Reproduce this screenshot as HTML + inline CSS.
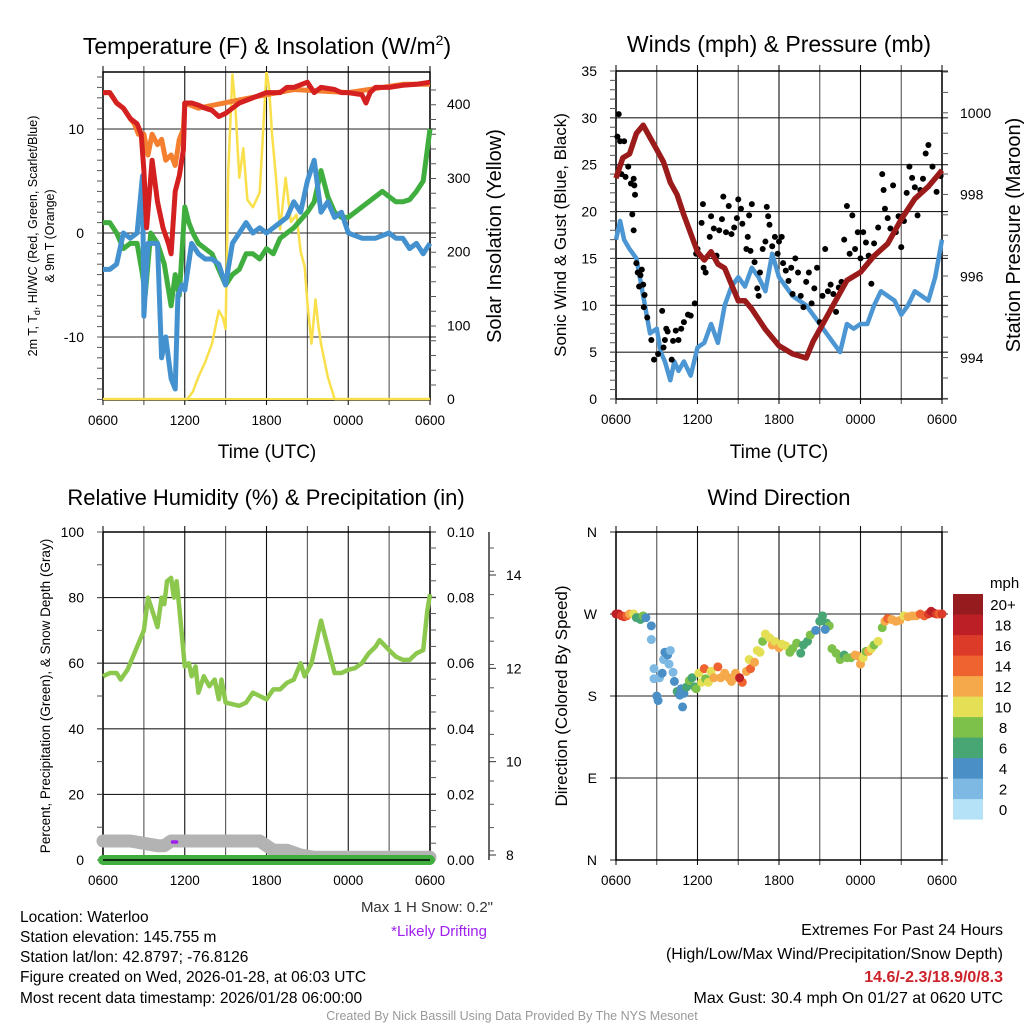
<!DOCTYPE html>
<html><head><meta charset="utf-8"><style>
body{margin:0;background:#fff;}
svg text{font-family:"Liberation Sans",Arial,sans-serif;fill:#000;}
</style></head><body>
<svg id="fig" width="1024" height="1024" viewBox="0 0 1024 1024" xmlns="http://www.w3.org/2000/svg">
<rect width="1024" height="1024" fill="#fff"/>
<g id="static">
<text x="267" y="54" font-size="23" text-anchor="middle">Temperature (F) &amp; Insolation (W/m<tspan font-size="14" dy="-9">2</tspan><tspan dy="9">)</tspan></text>
<text x="779" y="52" font-size="23" text-anchor="middle">Winds (mph) &amp; Pressure (mb)</text>
<text x="266" y="505" font-size="22" text-anchor="middle">Relative Humidity (%) &amp; Precipitation (in)</text>
<text x="779" y="505" font-size="22" text-anchor="middle">Wind Direction</text>
<text x="267" y="458" font-size="19" text-anchor="middle">Time (UTC)</text>
<text x="779" y="458" font-size="19" text-anchor="middle">Time (UTC)</text>
<text transform="translate(37,236) rotate(-90)" font-size="12.5" text-anchor="middle">2m T, T<tspan font-size="9" dy="3">d</tspan><tspan dy="-3">, HI/WC (Red, Green, Scarlet/Blue)</tspan></text>
<text transform="translate(54,236) rotate(-90)" font-size="12.5" text-anchor="middle">&amp; 9m T (Orange)</text>
<text transform="translate(501,236) rotate(-90)" font-size="20" text-anchor="middle">Solar Insolation (Yellow)</text>
<text transform="translate(566,235) rotate(-90)" font-size="17" text-anchor="middle">Sonic Wind &amp; Gust (Blue, Black)</text>
<text transform="translate(1020,235) rotate(-90)" font-size="20" text-anchor="middle">Station Pressure (Maroon)</text>
<text transform="translate(50,696) rotate(-90)" font-size="13.5" text-anchor="middle">Percent, Precipitation (Green), &amp; Snow Depth (Gray)</text>
<text transform="translate(567,696) rotate(-90)" font-size="17" text-anchor="middle">Direction (Colored By Speed)</text>
<text x="493" y="912" font-size="15" fill="#333" text-anchor="end" style="fill:#333">Max 1 H Snow: 0.2"</text>
<text x="487" y="936" font-size="15" text-anchor="end" style="fill:#a020f0">*Likely Drifting</text>
<g font-size="15.5">
<text x="20" y="922">Location: Waterloo</text>
<text x="20" y="942">Station elevation: 145.755 m</text>
<text x="20" y="962">Station lat/lon: 42.8797; -76.8126</text>
<text x="20" y="982">Figure created on Wed, 2026-01-28, at 06:03 UTC</text>
<text x="20" y="1003">Most recent data timestamp: 2026/01/28 06:00:00</text>
</g>
<g font-size="16" text-anchor="end">
<text x="1003" y="935">Extremes For Past 24 Hours</text>
<text x="1003" y="959">(High/Low/Max Wind/Precipitation/Snow Depth)</text>
<text x="1003" y="982" font-weight="bold" style="fill:#cc2229">14.6/-2.3/18.9/0/8.3</text>
<text x="1003" y="1003">Max Gust: 30.4 mph On 01/27 at 0620 UTC</text>
</g>
<text x="512" y="1020" font-size="12.5" text-anchor="middle" style="fill:#999">Created By Nick Bassill Using Data Provided By The NYS Mesonet</text>
</g>
<g id="dyn"></g>
</svg>
<script>
// ---------- data ----------
const xTickLabels = ["0600","1200","1800","0000","0600"];
const tempTicks = [10, 0, -10];
const solarTicks = [0, 100, 200, 300, 400];
const windTicks = [0,5,10,15,20,25,30,35];
const pressTicks = [994, 996, 998, 1000];
const rhTicks = [0,20,40,60,80,100];
const precipTicks = ["0.00","0.02","0.04","0.06","0.08","0.10"];
const snowTicks = [8,10,12,14];
const dirLabels = ["N","E","S","W","N"];
const speedBins = ["0","2","4","6","8","10","12","14","16","18","20+"];
const speedColors = ["#b5e2f7","#7db9e2","#4a8fc6","#48a574","#7dc04a","#e4df55","#f6a94a","#ee6330","#dd3b2a","#bd1f26","#951b1e"];

const redT = [0,0.5,1,1.5,2,2.5,2.8,3,3.2,3.6,4,4.4,4.8,5,5.3,5.6,5.9,6,6.5,7,7.5,8,8.5,9,9.5,10,11,12,13,13.5,14,15,15.5,16,17,17.5,18,19,19.3,19.6,20,21,22,23,24];
const redV = [13.5,13.5,12.5,12,11,10.5,9.5,6,0.5,7,3,0.5,-1,-2,4,5.5,8,12.5,12.5,12.3,12,11.8,11.2,11.5,12,12.5,13,13.5,13.5,14,14,14.5,13.5,14,13.8,13.5,13.5,13.3,12.5,13.5,14,14,14.2,14.3,14.5];
const orangeT = [0,0.5,1,1.5,2,2.3,2.6,3,3.3,3.6,4,4.3,4.6,5,5.3,5.6,5.9,6,7,10,14,18,22,24];
const orangeV = [13.5,13.5,12.5,12,11,10.5,9.5,9.5,7.5,9.5,8.5,9,7,7.5,6.5,9,10,12.5,12,12.8,13.8,13.5,14.3,14.3];
const greenT = [0,0.5,1,1.5,2,2.5,2.9,3.1,3.5,4,4.5,5,5.3,5.6,6,6.3,6.6,7,7.5,8,8.5,9,9.5,10,10.5,11,11.5,12,12.5,13,14,15,15.5,16,16.5,17,17.5,18,19,20,20.5,21,21.5,22,22.5,23,23.5,24];
const greenV = [1,1,0,-1.5,-1,-1,-4,-6,0,-1,-3,-7,-4,-6,2.5,1,0,-1,-1.5,-2,-3.5,-5,-4,-3.5,-2,-2,-2.5,-1.5,-2,-0.5,0.5,2,3,6,3.5,2,1.5,1.5,2.5,3.5,4,3.5,3,3,3.2,4,5,10];
const blueT = [0,0.5,1,1.5,2,2.5,2.9,3,3.3,3.6,4,4.3,4.6,5,5.3,5.5,5.8,6,6.5,7,7.5,8,8.5,9,9.5,10,10.5,11,11.5,12,12.5,13,13.5,14,14.5,15,15.5,16,16.5,17,17.5,18,19,20,21,21.5,22,22.5,23,23.5,24];
const blueV = [-3.5,-3.5,-3,0,-0.5,0,5.5,-8,-1,-1,-1,-12,-10,-14,-15,-6,-5,-5.5,-1,-2,-2.5,-2.5,-3,-5,-1,0,1,0,0.5,0,0.5,1,1.5,3,2,5,7,2,3,1.5,2,0,-0.5,-0.5,0,-0.5,-0.5,-1.5,-1,-2,-1];
const solarT = [0,6.2,6.6,7,7.5,8,8.5,8.8,9,9.2,9.5,9.7,10,10.3,10.6,11,11.5,11.8,12,12.2,12.4,12.7,13,13.4,13.8,14.2,14.5,14.8,15,15.3,15.6,15.8,16,16.5,17,24];
const solarV = [0,0,10,30,50,75,120,110,95,310,440,400,300,340,270,260,280,380,445,420,360,300,230,300,240,250,200,180,130,75,135,100,75,30,0,0];

const windT = [0,0.3,0.6,1,1.5,2,2.5,3,3.3,3.6,4,4.3,4.6,5,5.5,6,6.5,7,7.5,8,8.5,9,9.5,10,10.5,11,11.5,12,12.5,13,13.5,14,14.5,15,15.5,16,16.5,17,17.5,18,18.5,19,19.5,20,20.5,21,21.5,22,22.5,23,23.5,24];
const windV = [17,19,17,16,15,11,7,7.5,5,4,2,4,3,4,2.5,5.5,6,8,6,10,12,13,12,14,13,11.5,15.5,13,12,11,10.5,10,9,8,7,6,5,8,7.5,8,8,10,11.5,11,10.5,9,10,11.5,11,10.5,13,17,14];
const gustT = [0.1,0.2,0.3,0.4,0.6,0.7,0.9,1.1,1.3,1.35,1.4,1.2,1.3,1.5,1.6,1.7,1.8,1.9,2.0,2.1,2.05,2.3,2.6,2.8,3.1,3.4,3.5,3.6,3.7,3.8,4.1,4.2,4.4,4.6,4.8,5.0,5.3,5.5,5.8,5.9,6.0,6.3,6.4,6.45,6.6,6.9,7.0,7.2,7.4,7.6,7.8,7.9,8.1,8.3,8.5,8.7,8.9,9.0,9.2,9.3,9.6,9.7,9.8,9.9,10.0,10.2,10.4,10.5,10.6,10.8,11.0,11.1,11.2,11.3,11.5,11.7,11.9,12.0,12.2,12.3,12.5,12.7,12.9,13.0,13.2,13.4,13.6,13.8,14.0,14.2,14.4,14.6,14.8,15.0,15.2,15.4,15.6,15.8,16.0,16.2,16.4,16.6,16.8,17.0,17.2,17.4,17.6,17.8,18.0,18.2,18.4,18.6,18.8,19.0,19.3,19.6,19.7,19.8,20.0,20.2,20.4,20.6,20.8,21.0,21.2,21.4,21.6,21.8,22.0,22.2,22.4,22.6,22.8,23.0,23.3,23.6,23.9];
const gustV = [28,30.4,27.5,24,27.5,23.7,24.8,23,23.5,22.8,21.8,19.7,18,14.5,13.5,12,13.2,13.8,12.2,11.1,9.8,8.7,6.3,4.2,4.8,9.4,5.5,6.3,7.5,7.2,4.2,6.2,7.3,6.3,7.5,8.2,9,8.9,10.2,15.5,16,18.8,20.8,14,13.5,17.3,19.5,18.2,15.3,18,19.2,21.6,17.8,20.6,17.6,18.3,19.3,21.3,20.3,18.7,16,17.3,19.6,15.8,20.8,14.6,11.8,11,13.5,16,16.8,20.5,19.5,18.6,16.3,17.3,15.5,16.8,17.3,14.5,13.7,12.6,14,11.2,15,13.5,11,9.8,12.5,13.5,10.2,11.8,14,8.2,11,16,11.5,12.2,11.2,9.3,11.9,12.5,17,20.6,15.5,19.6,16,17.8,15,17.8,16.7,15.3,12.3,16.6,18.3,24,22.3,20.3,19.3,18.2,22.8,17.8,19.5,16.2,19,22,24.8,23.6,22.6,19.6,22.3,23.5,26.2,27.1,24.8,22.1,23.8];
const pressT = [0,0.5,1,1.5,2,2.5,3,3.5,4,4.5,5,6,6.5,7,7.5,8,9,9.5,10,11,12,13,14,14.5,15,16,17,18,19,20,21,22,23,24];
const pressV = [998.4,998.9,999.0,999.5,999.7,999.4,999.1,998.8,998.3,998.0,997.5,996.6,996.4,996.6,996.3,996.2,995.4,995.4,995.2,994.7,994.3,994.1,994.0,994.4,994.7,995.3,995.9,996.1,996.5,996.8,997.4,997.9,998.2,998.6];

const rhT = [0,0.5,1,1.3,1.8,2.5,3,3.3,3.7,4,4.3,4.5,4.7,5,5.2,5.4,5.6,6,6.3,6.5,6.8,7,7.4,7.8,8.2,8.5,8.7,9,10,10.5,11,11.5,12,12.5,13,13.5,14,14.5,14.8,15.3,16,16.5,17,17.5,18,18.5,19,19.5,20,20.3,21,21.5,22,22.5,23,23.5,23.8,24];
const rhV = [56,57,57,55,58,65,70,80,75,71,80,78,85,86,80,85,77,59,60,56,59,51,56,53,55,49,55,48,47,48,51,50,49,52,52,54,55,60,56,60,73,65,57,57,58,58.5,60,63,65,67,64,62,61,61,63,64,76,81];
const snowT = [0,1,2,3,4,4.5,5,6,8,10,11.5,12.5,13.5,14.5,15.5,24];
const snowV = [8.3,8.3,8.3,8.25,8.2,8.2,8.3,8.3,8.3,8.3,8.3,8.1,8.1,8.0,7.95,7.95];
const precipT = [0,24];
const precipV = [0,0];

const dirT = [0,0.2,0.4,0.6,0.8,1.0,1.3,1.5,1.8,2.0,2.2,2.6,2.6,2.8,2.8,3.0,3.1,3.2,3.4,3.5,3.6,3.8,3.9,4.0,4.2,4.3,4.5,4.7,4.8,4.9,5.0,5.2,5.4,5.6,5.8,5.9,6.1,6.3,6.5,6.6,6.8,7.0,7.2,7.5,7.7,8.0,8.3,8.5,8.8,9.0,9.3,9.1,9.6,9.8,9.9,10.2,10.4,10.6,10.8,11.0,11.3,11.5,11.7,12.0,12.2,12.5,12.8,13.0,13.3,13.6,13.8,14.1,14.3,14.7,15.0,15.2,15.5,15.7,15.4,15.9,16.2,16.5,16.8,17.0,17.3,17.6,17.8,18.0,18.2,18.4,18.6,18.8,19.0,19.3,19.6,19.8,20.0,20.3,20.6,20.9,21.2,21.5,21.8,22.1,22.4,22.7,23.0,23.2,23.4,23.6,23.8,24.0];
const dirV = [270,270,268,267,268,270,270,266,264,268,266,257,242,210,199,180,175,200,205,220,228,225,215,230,206,196,185,181,188,168,183,190,197,200,190,188,205,195,210,199,195,207,200,212,200,205,200,196,205,200,195,200,207,220,210,217,230,228,240,248,244,236,240,233,237,235,228,232,238,227,236,240,247,252,262,268,260,257,253,232,227,220,225,222,222,225,224,215,222,229,229,232,236,240,255,262,265,264,262,263,268,267,268,268,270,268,270,273,271,270,270,270];
const dirSpd = [18,18,16,16,14,12,10,6,6,8,4,4,2,2,2,4,4,2,4,2,4,4,2,2,2,4,6,4,4,4,4,6,8,6,6,8,10,10,14,8,10,10,12,14,12,12,12,12,12,12,14,18,12,10,14,12,10,10,8,10,10,12,10,12,10,10,8,8,8,6,6,6,8,4,6,6,6,8,4,8,8,8,6,8,8,12,12,12,10,8,12,10,8,10,8,12,14,12,12,12,10,12,12,12,14,14,16,18,18,16,14,16];

// ---------- helpers ----------
const NS = "http://www.w3.org/2000/svg";
const root = document.getElementById("dyn");
function mk(tag, attrs, parent) {
  const e = document.createElementNS(NS, tag);
  for (const k in attrs) e.setAttribute(k, attrs[k]);
  (parent || root).appendChild(e);
  return e;
}
function txt(x, y, s, size, anchor, parent) {
  const t = mk("text", {x: x, y: y, "font-size": size, "text-anchor": anchor}, parent);
  t.textContent = s;
  return t;
}
function linePath(ts, vs, fx, fy) {
  let d = "";
  for (let i = 0; i < ts.length; i++) d += (i ? "L" : "M") + fx(ts[i]).toFixed(1) + "," + fy(vs[i]).toFixed(1);
  return d;
}

// panel geometry
function xScale(x0, x1) { return h => x0 + h * (x1 - x0) / 24; }
function yScale(v0, p0, v1, p1) { return v => p0 + (v - v0) * (p1 - p0) / (v1 - v0); }

function frame(name, x0, x1, top, bot, hLines, parent) {
  const g = mk("g", {}, parent);
  
  
  for (let i = 0; i <= 8; i++) {
    const x = x0 + i * (x1 - x0) / 8;
    const l = mk("line", {x1: x, x2: x, y1: top - 6, y2: bot + 5, stroke: i % 2 ? "#555" : "#111", "stroke-width": 1.1}, g);
    
    
  }
  hLines.forEach(y => {
    const l = mk("line", {x1: x0 - 6, x2: x1 + 6, y1: y, y2: y, stroke: "#222", "stroke-width": 1.1}, g);
    
    
  });
  const b = mk("rect", {x: x0, y: top, width: x1 - x0, height: bot - top, fill: "none", stroke: "#000", "stroke-width": 1.5}, g);
  
  
  xTickLabels.forEach((s, i) => {
    const t = txt(x0 + i * (x1 - x0) / 4, bot + 25, s, 13.5, "middle", g);
    
    
  });
}
function minorTicks(x, from, to, step, len, parent) {
  for (let y = from; y <= to + 0.1; y += step) mk("line", {x1: x, x2: x + len, y1: y, y2: y, stroke: "#555", "stroke-width": 1}, parent);
}

// ---------- Panel 1: temperature ----------
const p1 = mk("g", {});


const x1s = xScale(103, 430), yT = yScale(0, 233, 10, 129), yS = yScale(0, 399, 400, 104);
frame("temperature", 103, 430, 72, 400, tempTicks.map(yT), p1);
minorTicks(97, 77, 400, 10.4, 6, p1);
minorTicks(430, 90, 399, 14.75, 6, p1);
tempTicks.forEach(v => { const t = txt(84, yT(v) + 5, String(v), 14, "end", p1);   });
solarTicks.forEach(v => { const t = txt(447, yS(v) + 5, String(v), 14, "start", p1);   });
const cp1 = mk("clipPath", {id: "c1"}, p1); mk("rect", {x: 100, y: 72, width: 334, height: 330}, cp1);
const gl1 = mk("g", {"clip-path": "url(#c1)"}, p1);
const solarLine = mk("path", {d: linePath(solarT, solarV, x1s, yS), fill: "none", stroke: "#f9e04b", "stroke-width": 2.5, "stroke-linejoin": "round"}, gl1);


const orangeLine = mk("path", {d: linePath(orangeT, orangeV, x1s, yT), fill: "none", stroke: "#f47f2f", "stroke-width": 5, "stroke-linejoin": "round"}, gl1);


const greenLine = mk("path", {d: linePath(greenT, greenV, x1s, yT), fill: "none", stroke: "#3fae3f", "stroke-width": 5, "stroke-linejoin": "round"}, gl1);


const blueLine = mk("path", {d: linePath(blueT, blueV, x1s, yT), fill: "none", stroke: "#4391cf", "stroke-width": 5, "stroke-linejoin": "round"}, gl1);


const redLine = mk("path", {d: linePath(redT, redV, x1s, yT), fill: "none", stroke: "#d42020", "stroke-width": 5, "stroke-linejoin": "round"}, gl1);


mk("line", {x1: 103, x2: 430, y1: 399, y2: 399, stroke: "#f9e04b", "stroke-width": 2}, gl1);

// ---------- Panel 2: winds ----------
const p2 = mk("g", {});


const x2s = xScale(616, 942), yW = yScale(0, 399, 35, 71), yP = yScale(994, 358, 1000, 113);
frame("winds", 616, 942, 71, 399, windTicks.map(yW), p2);
minorTicks(610, 71, 399, 9.37, 6, p2);
minorTicks(942, 72, 399, 20.4, 6, p2);
windTicks.forEach(v => { const t = txt(597, yW(v) + 5, String(v), 14, "end", p2);   });
pressTicks.forEach(v => { const t = txt(960, yP(v) + 5, String(v), 14, "start", p2);   });
const windLine = mk("path", {d: linePath(windT, windV, x2s, yW), fill: "none", stroke: "#4c97d3", "stroke-width": 4.5, "stroke-linejoin": "round"}, p2);


for (let i = 0; i < gustT.length; i++) {
  const c = mk("circle", {cx: x2s(gustT[i]), cy: yW(gustV[i]), r: 3, fill: "#000"}, p2);
  
  
}
const pressLine = mk("path", {d: linePath(pressT, pressV, x2s, yP), fill: "none", stroke: "#9b1b1b", "stroke-width": 5.5, "stroke-linejoin": "round"}, p2);



// ---------- Panel 3: humidity ----------
const p3 = mk("g", {});


const x3s = xScale(103, 430), yR = yScale(0, 860, 100, 532), ySn = yScale(8, 855, 14, 575);
frame("humidity", 103, 430, 532, 860, rhTicks.map(yR), p3);
minorTicks(97, 532, 860, 32.8, 6, p3);
minorTicks(430, 548, 860, 16.4, 6, p3);
rhTicks.forEach(v => { const t = txt(84, yR(v) + 5, String(v), 14, "end", p3);   });
precipTicks.forEach((s, i) => { const t = txt(447, yR(i * 20) + 5, s, 14, "start", p3);   });
const snowAxis = mk("line", {x1: 489, x2: 489, y1: 532, y2: 860, stroke: "#333", "stroke-width": 1.5}, p3);


minorTicks(489, 548, 860, 23.3, 5, p3);
snowTicks.forEach(v => { mk("line", {x1: 489, x2: 496, y1: ySn(v), y2: ySn(v), stroke: "#333"}, p3); const t = txt(506, ySn(v) + 5, String(v), 14, "start", p3);   });
const snowLine = mk("path", {d: linePath(snowT, snowV, x3s, ySn), fill: "none", stroke: "#b3b3b3", "stroke-width": 13, "stroke-linecap": "round", "stroke-linejoin": "round"}, p3);


const precipLine = mk("path", {d: linePath(precipT, precipV.map(v => v * 1000), x3s, yR), fill: "none", stroke: "#3fae3f", "stroke-width": 10, "stroke-linecap": "round"}, p3);


mk("line", {x1: 103, x2: 430, y1: 860, y2: 860, stroke: "#000", "stroke-width": 1.5}, p3);
const drift = mk("line", {x1: x3s(5.1), x2: x3s(5.4), y1: 842, y2: 842, stroke: "#a020f0", "stroke-width": 3.5, "stroke-linecap": "round"}, p3);


const rhLine = mk("path", {d: linePath(rhT, rhV, x3s, yR), fill: "none", stroke: "#8dc84e", "stroke-width": 4.5, "stroke-linejoin": "round"}, p3);



// ---------- Panel 4: wind direction ----------
const p4 = mk("g", {});


const x4s = xScale(616, 942), yD = yScale(0, 860, 360, 532);
frame("direction", 616, 942, 532, 860, [0, 90, 180, 270, 360].map(yD), p4);
dirLabels.forEach((s, i) => { const t = txt(597, yD(i * 90) + 5, s, 14, "end", p4);   });
function spdColor(s) { return speedColors[Math.min(10, Math.max(0, Math.floor(s / 2)))]; }
for (let i = 0; i < dirT.length; i++) {
  const c = mk("circle", {cx: x4s(dirT[i]), cy: yD(dirV[i]), r: 4.5, fill: spdColor(dirSpd[i])}, p4);
  
  
}
// legend
const lg = mk("g", {}, p4);


const lt = txt(990, 588, "mph", 15, "start", lg);


for (let i = 0; i < speedBins.length; i++) {
  const yy = 594 + (10 - i) * 20.5;
  const r = mk("rect", {x: 953, y: yy, width: 30, height: 20.6, fill: speedColors[i]}, lg);
  
  
  const t = txt(1003, yy + 16, speedBins[i], 15, "middle", lg);
  
  
}
</script>
</body></html>
